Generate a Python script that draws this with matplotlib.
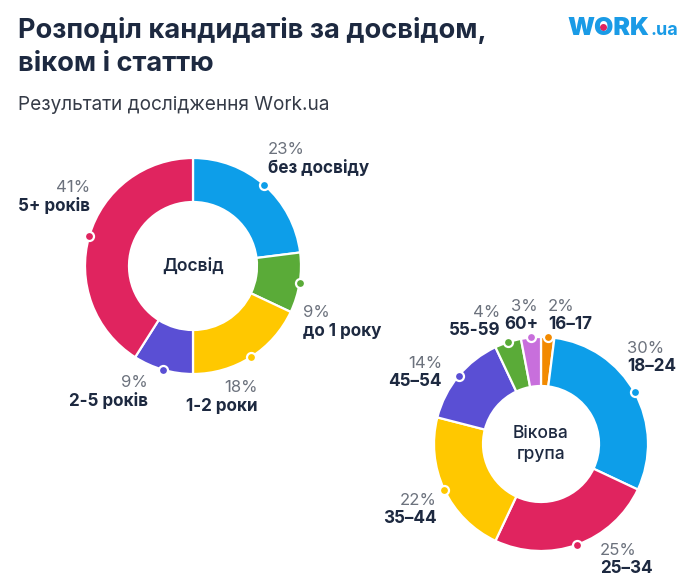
import matplotlib.pyplot as plt
import numpy as np

plt.rcParams['font.family'] = ['Inter', 'DejaVu Sans']

# experience donut
exp_labels = ["без досвіду", "до 1 року", "1-2 роки", "2-5 років", "5+ років"]
exp_values = [23, 9, 18, 9, 41]
exp_colors = ["#0d9ee9", "#5aab38", "#ffc800", "#5a4fd4", "#e0245f"]

# age donut
age_labels = ["16–17", "18–24", "25–34", "35–44", "45–54", "55-59", "60+"]
age_values = [2, 30, 25, 22, 14, 4, 3]
age_colors = ["#f28a00", "#0d9ee9", "#e0245f", "#ffc800", "#5a4fd4", "#5aab38", "#c86fdc"]

NAVY = "#1d2940"
GREY = "#6c727d"
H = 580

fig = plt.figure(figsize=(7, 5.8), dpi=100)
ax = fig.add_axes([0, 0, 1, 1])


def donut(values, colors, cx, cy, r, inner):
    ax.pie(values, colors=colors, startangle=90, counterclock=False,
           center=(cx, H - cy), radius=r,
           wedgeprops=dict(width=r - inner, edgecolor="white", linewidth=1.6))
    # marker dots at the outer edge, middle of each slice
    cum = np.cumsum([0] + values[:-1])
    mids = (cum + np.array(values) / 2) / sum(values) * 360
    for m, c in zip(mids, colors):
        a = np.deg2rad(90 - m)
        ax.plot(cx + r * np.cos(a), H - cy + r * np.sin(a), "o", ms=6.5,
                mfc=c, mec="white", mew=1.6, zorder=5)


def label(x, y, pct, name, ha, gap=19):
    ax.text(x, H - y, f"{pct}%", ha=ha, va="baseline", fontsize=12, color=GREY)
    ax.text(x, H - y - gap, name, ha=ha, va="baseline", fontsize=12.3,
            color=NAVY, fontweight="bold")


donut(exp_values, exp_colors, 193, 266, 108, 64)
donut(age_values, age_colors, 541, 444, 107, 58)

ax.set_xlim(0, 700)
ax.set_ylim(0, H)
ax.set_aspect("equal")
ax.axis("off")

exp_pos = [(268, 154, "left"), (303, 317, "left"), (258, 392, "right"),
           (148, 387, "right"), (90, 192, "right")]
for (x, y, ha), p, n in zip(exp_pos, exp_values, exp_labels):
    label(x, y, p, n, ha)

age_pos = [(548, 311, "left"), (627, 353, "left"), (600, 555, "left"),
           (437, 505, "right"), (442, 368, "right"), (500, 317, "right"),
           (538, 311, "right")]
for (x, y, ha), p, n in zip(age_pos, age_values, age_labels):
    label(x, y, p, n, ha, gap=18)

ax.text(193, H - 266, "Досвід", ha="center", va="center", fontsize=12.5,
        color=NAVY, fontweight="semibold")
ax.text(541, H - 444, "Вікова\nгрупа", ha="center", va="center", fontsize=12.5,
        color=NAVY, fontweight="medium", linespacing=1.3)

# title block
ax.text(18, H - 38, "Розподіл кандидатів за досвідом,", fontsize=19.6,
        fontweight="bold", color=NAVY, va="baseline")
ax.text(18, H - 71, "віком і статтю", fontsize=19.6,
        fontweight="bold", color=NAVY, va="baseline")
ax.text(18, H - 110, "Результати дослідження Work.ua", fontsize=13.7,
        color="#353b47", va="baseline")

# logo
ax.text(567, H - 35, "WORK", fontsize=18, fontweight="black", color="#1a9be6",
        va="baseline")
ax.text(650, H - 35, ".ua", fontsize=13, fontweight="bold", color="#1a9be6",
        va="baseline")
ax.plot(603, H - 27, "o", ms=4, color="#e0245f")

fig.savefig("out.png", dpi=100, facecolor="white")
